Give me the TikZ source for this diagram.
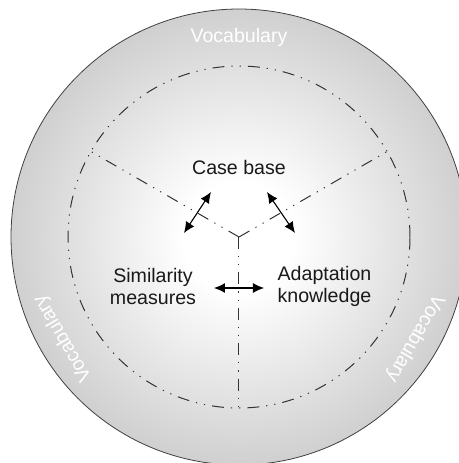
\documentclass[tikz,border=0pt]{standalone}
\usepackage{fontspec}
\setmainfont{Liberation Sans}
\usetikzlibrary{arrows.meta}
\pgfdeclareradialshading{vocabfade}{\pgfpointorigin}{color(0bp)=(white); color(6bp)=(white); color(50bp)=(black!43)}
\tikzset{x = 0.5pt, y = 0.5pt,
         every node/.style = {font = \fontsize{9.8}{11}\selectfont, text = black!90},
         vocab/.style = {text = white},
         part/.style = {align = center, inner sep = 0pt},
         spoke/.style = {line width = 0.5pt, black!80,
                         dash pattern = on 6pt off 3.5pt on 0.6pt off 3.5pt on 0.6pt off 3.5pt},
         link/.style = {{Latex[length = 5.5pt, width = 5pt]}-{Latex[length = 5.5pt, width = 5pt]},
                        line width = 0.55pt}}

\begin{document}
\begin{tikzpicture}
        \useasboundingbox (-239,-226) rectangle (220,237);
        \coordinate (hub) at (0,0);

        % vocabulary ring
        \path[shade, shading = vocabfade, draw = black!75, line width = 0.4pt] (hub) circle (228);
        \node[vocab, rotate = 0]   (voctop)   at (90:200)  {Vocabulary};
        \node[vocab, rotate = 120] (vocleft)  at (210:203) {Vocabulary};
        \node[vocab, rotate = 240] (vocright) at (330:203) {Vocabulary};

        % knowledge containers
        \coordinate (splitl) at (150:171);
        \coordinate (splitr) at (30:171);
        \coordinate (splitb) at (270:171);
        \draw[spoke] (hub) circle (171);
        \draw[spoke] (hub) -- (splitl);
        \draw[spoke] (hub) -- (splitr);
        \draw[spoke] (hub) -- (splitb);

        \node[part] (casebase)   at (0,70)     {Case base};
        \node[part] (similarity) at (-86,-49)  {Similarity\\measures};
        \node[part] (adaptation) at (85.5,-49) {Adaptation\\knowledge};

        \coordinate (simtip)   at (-55,4);
        \coordinate (casetipl) at (-28,45);
        \coordinate (casetipr) at (28,45);
        \coordinate (adatip)   at (56,4);
        \coordinate (simside)  at (-25,-51);
        \coordinate (adaside)  at (25,-51);
        \draw[link] (simtip) -- (casetipl);
        \draw[link] (casetipr) -- (adatip);
        \draw[link] (simside) -- (adaside);
\end{tikzpicture}
\end{document}
